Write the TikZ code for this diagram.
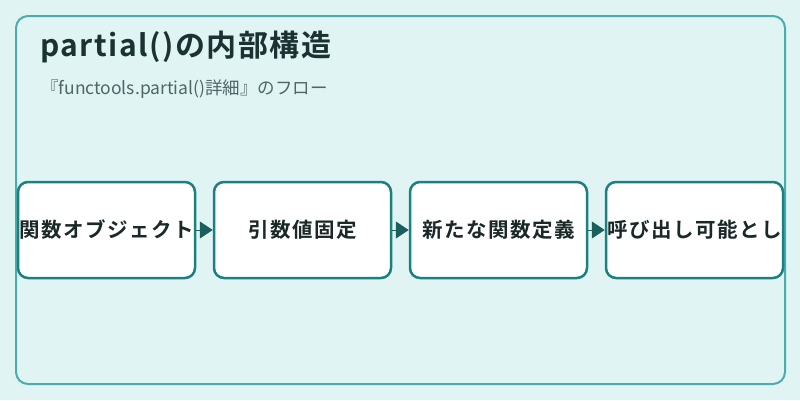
\documentclass[tikz,border=0pt]{standalone}
\usepackage{fontspec}
\setmainfont{Noto Sans CJK JP}
\newfontfamily\jpbold{Noto Sans CJK JP Bold}
\usetikzlibrary{arrows.meta}
\definecolor{bgc}{HTML}{E0F4F4}
\definecolor{frame}{HTML}{4AACAC}
\definecolor{boxline}{HTML}{1B8080}
\definecolor{arrowc}{HTML}{1A5E5E}
\definecolor{titlec}{HTML}{1A3232}
\definecolor{subc}{HTML}{4E6666}
\definecolor{textc}{HTML}{1A2828}
\tikzset{
  stepbox/.style={draw=boxline, line width=2.5pt, fill=white, rounded corners=10pt,
    minimum width=177pt, minimum height=96pt, inner sep=0pt,
    font=\jpbold\fontsize{20.5}{24}\selectfont\addfontfeatures{LetterSpace=7}, text=textc},
  flow/.style={draw=arrowc, line width=1pt, -{Triangle[length=13pt,width=17pt]}, arrowc}
}
\begin{document}
\begin{tikzpicture}[x=1pt,y=-1pt]
\useasboundingbox (0,0) rectangle (800,400);
\fill[bgc] (0,0) rectangle (800,400);
\draw[frame, line width=2pt, rounded corners=12pt] (16,16) rectangle (785,384);
\node[anchor=west, text=titlec, font=\jpbold\fontsize{30}{34}\selectfont\addfontfeatures{LetterSpace=5}, inner sep=0pt] (title) at (40,47) {partial()の内部構造};
\node[anchor=west, text=subc, font=\fontsize{17.5}{21}\selectfont, inner sep=0pt] (sub) at (41,89) {『functools.partial()詳細』のフロー};
\node[stepbox] (b1) at (106.5,230) {関数オブジェクト};
\node[stepbox] (b2) at (302.5,230) {引数値固定};
\node[stepbox] (b3) at (498.5,230) {新たな関数定義};
\node[stepbox] (b4) at (694.5,230) {呼び出し可能とし};
\draw[flow] (b1) -- (b2);
\draw[flow] (b2) -- (b3);
\draw[flow] (b3) -- (b4);
\end{tikzpicture}
\end{document}
